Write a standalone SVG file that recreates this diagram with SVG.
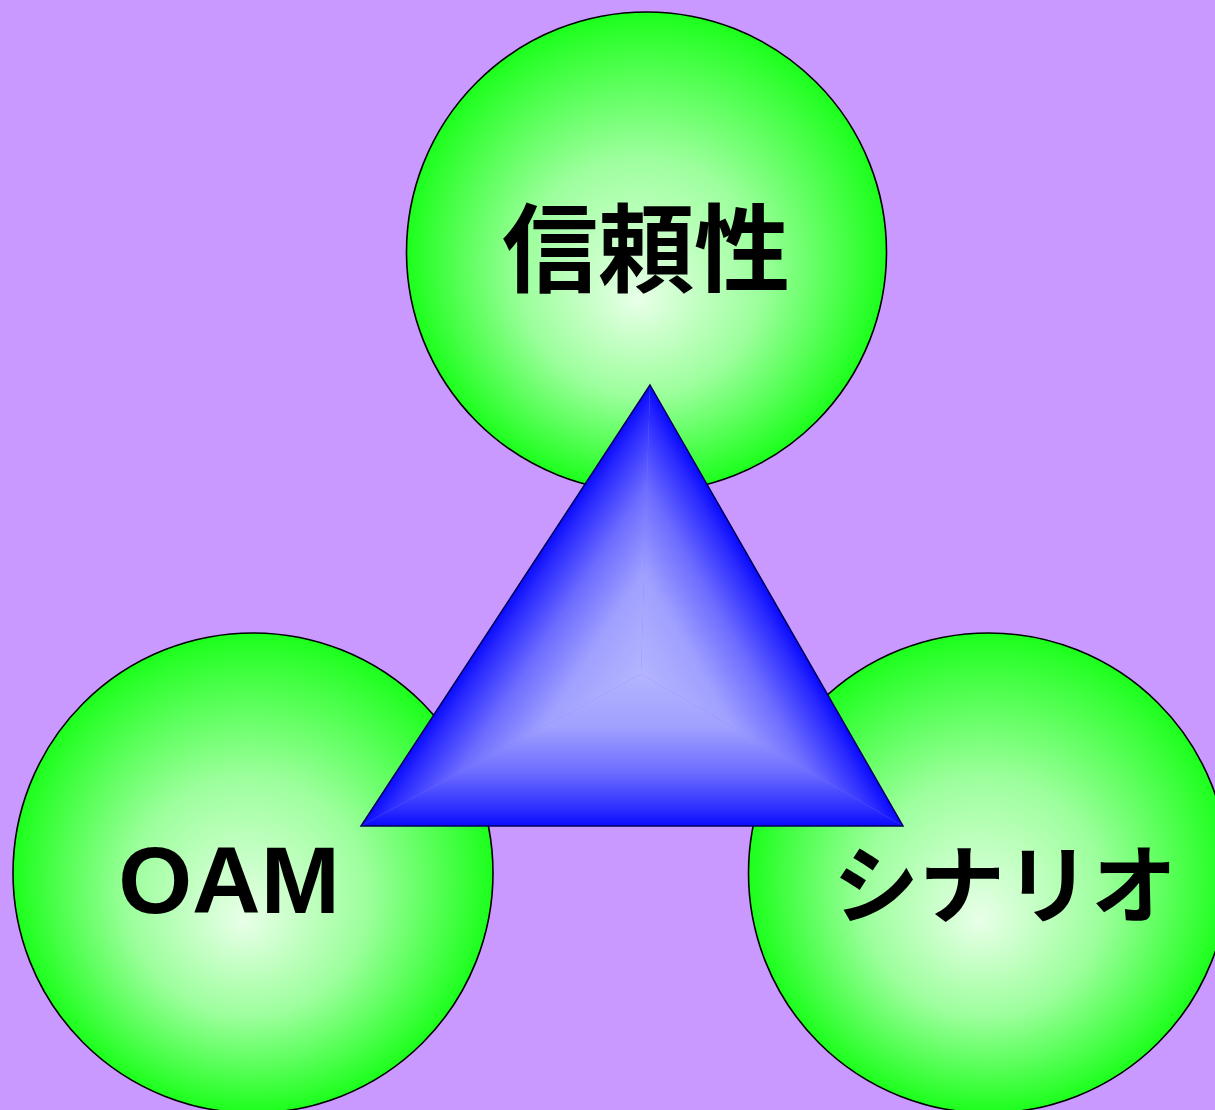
<svg xmlns="http://www.w3.org/2000/svg" width="1215" height="1110" viewBox="0 0 1215 1110">
<style>
.ball{stroke:#000;stroke-width:1.6;fill:url(#g)}
.lbl{font-family:"Noto Sans CJK JP","Liberation Sans",sans-serif;font-weight:bold;fill:#000;text-anchor:middle}
.oam{font-family:"Liberation Sans",Arial,sans-serif;font-weight:bold;fill:#000;text-anchor:middle}
</style>
<defs>
<radialGradient id="g" cx="0.5" cy="0.5" r="0.5" fx="0.48" fy="0.6">
<stop offset="0" stop-color="#E8FFE8"/>
<stop offset="0.5" stop-color="#9CFF9C"/>
<stop offset="1" stop-color="#1CFF1C"/>
</radialGradient>
<linearGradient id="tb" gradientUnits="userSpaceOnUse" x1="0" y1="826" x2="0" y2="674">
<stop offset="0" stop-color="#0A0AFF"/>
<stop offset="0.1" stop-color="#2A2AFF"/>
<stop offset="0.35" stop-color="#6C6CFF"/>
<stop offset="0.65" stop-color="#A0A0FF"/>
<stop offset="1" stop-color="#B4B4FF"/>
</linearGradient>
<linearGradient id="tl" gradientUnits="userSpaceOnUse" x1="514.3" y1="591" x2="641" y2="674" href="#tb"/>
<linearGradient id="tr" gradientUnits="userSpaceOnUse" x1="772.4" y1="598.6" x2="641" y2="674" href="#tb"/>
</defs>
<rect width="1215" height="1110" fill="#CA99FF"/>
<g id="node-reliability">
<circle class="ball" cx="646.5" cy="252" r="240"/>
<text class="lbl" x="646" y="284" font-size="96">信頼性</text>
</g>
<g id="node-oam">
<circle class="ball" cx="253" cy="873" r="240"/>
<text class="oam" x="229" y="913" font-size="95">OAM</text>
</g>
<g id="node-scenario">
<circle class="ball" cx="988.5" cy="873" r="240"/>
<text class="lbl" x="1005" y="917" font-size="86">シナリオ</text>
</g>
<g id="node-triangle">
<polygon points="650,385 903,826 361,826" fill="#7C7CFF"/>
<polygon points="361,826 903,826 641,674" fill="url(#tb)"/>
<polygon points="650,385 361,826 641,674" fill="url(#tl)"/>
<polygon points="650,385 903,826 641,674" fill="url(#tr)"/>
<polygon points="650,385 903,826 361,826" fill="none" stroke="#00005A" stroke-width="1.5"/>
</g>
<g id="connectors"></g>
</svg>
